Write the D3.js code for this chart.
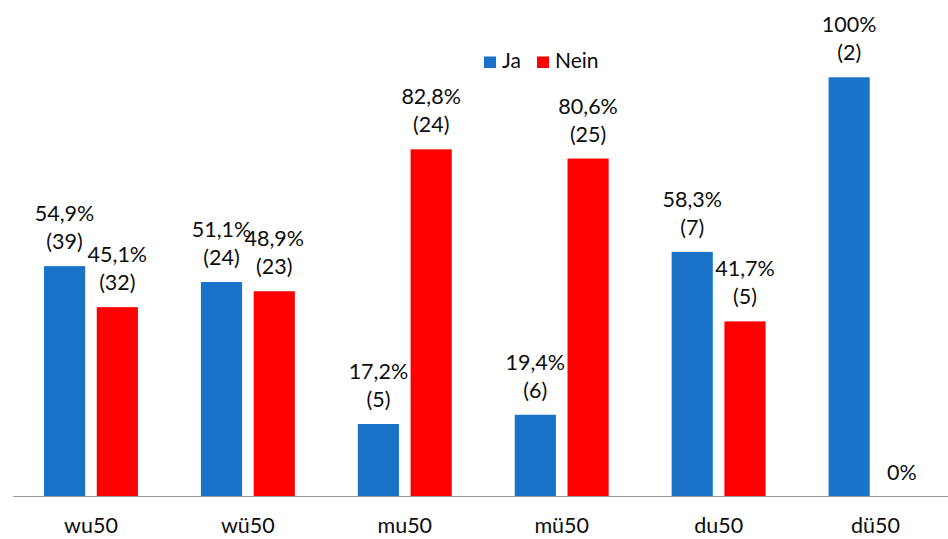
<!DOCTYPE html>
<html>
<head>
<meta charset="utf-8">
<script src="https://cdn.jsdelivr.net/npm/d3@7"></script>
<style>
  html, body { margin: 0; padding: 0; background: #fff; }
  svg { display: block; font-family: Lato, "Open Sans", sans-serif; }
</style>
</head>
<body>
<svg id="chart" width="948" height="539"></svg>
<script>
const categories = ["wu50", "wü50", "mu50", "mü50", "du50", "dü50"];
const seriesNames = ["Ja", "Nein"];
const jaPercent = [54.9, 51.1, 17.2, 19.4, 58.3, 100];
const neinPercent = [45.1, 48.9, 82.8, 80.6, 41.7, 0];
const jaCount = [39, 24, 5, 6, 7, 2];
const neinCount = [32, 23, 24, 25, 5, 0];
const colors = { "Ja": "#1a73c9", "Nein": "#ff0000" };

const rows = categories.map((c, i) => ({
  cat: c,
  values: [
    { key: "Ja", pct: jaPercent[i], n: jaCount[i] },
    { key: "Nein", pct: neinPercent[i], n: neinCount[i] }
  ]
}));

const svg = d3.select("#chart");
const baseY = 496;
const fontSize = 21.5;

const x0 = d3.scaleBand().domain(categories).range([12.5, 954]).paddingInner(0).paddingOuter(0);
const x1 = d3.scaleBand().domain(seriesNames).range([31.5, x0.bandwidth() - 31.5]).paddingInner(0.22);
const y = d3.scaleLinear().domain([0, 100]).range([baseY, 77.3]);

const fmt = v => (v === 100 || v === 0 ? String(v) : v.toFixed(1).replace(".", ",")) + "%";

const groups = svg.selectAll("g.cat").data(rows).join("g")
  .attr("class", "cat")
  .attr("transform", d => `translate(${x0(d.cat)},0)`);

groups.selectAll("rect").data(d => d.values).join("rect")
  .attr("x", d => x1(d.key))
  .attr("width", x1.bandwidth())
  .attr("y", d => y(d.pct))
  .attr("height", d => baseY - y(d.pct))
  .attr("fill", d => colors[d.key]);

const labels = groups.selectAll("text.val").data(d => d.values).join("text")
  .attr("class", "val")
  .attr("text-anchor", "middle")
  .attr("font-size", fontSize)
  .attr("fill", "#0d0d0d");

labels.each(function(d) {
  const t = d3.select(this);
  const cx = x1(d.key) + x1.bandwidth() / 2;
  const top = y(d.pct);
  if (d.pct === 0) {
    t.append("tspan").attr("x", cx).attr("y", top - 16).text(fmt(d.pct));
  } else {
    t.append("tspan").attr("x", cx).attr("y", top - 45).text(fmt(d.pct));
    t.append("tspan").attr("x", cx).attr("y", top - 17).text(`(${d.n})`);
  }
});

// category axis along the baseline
const axis = svg.append("g")
  .attr("transform", `translate(0,${baseY})`)
  .call(d3.axisBottom(x0).tickSize(0).tickPadding(22));
axis.select(".domain").attr("stroke", "#999").attr("stroke-width", 1.2);
axis.selectAll("text").attr("font-size", fontSize).attr("fill", "#0d0d0d")
  .attr("font-family", "Lato, 'Open Sans', sans-serif");

// legend
const legend = svg.append("g");
const legendItems = [{ key: "Ja", x: 484, tx: 502 }, { key: "Nein", x: 537, tx: 555 }];
legendItems.forEach(it => {
  legend.append("rect").attr("x", it.x).attr("y", 56.5).attr("width", 12).attr("height", 11.5)
    .attr("fill", colors[it.key]);
  legend.append("text").attr("x", it.tx).attr("y", 68).attr("font-size", 21).attr("fill", "#0d0d0d")
    .text(it.key);
});
</script>
</body>
</html>
